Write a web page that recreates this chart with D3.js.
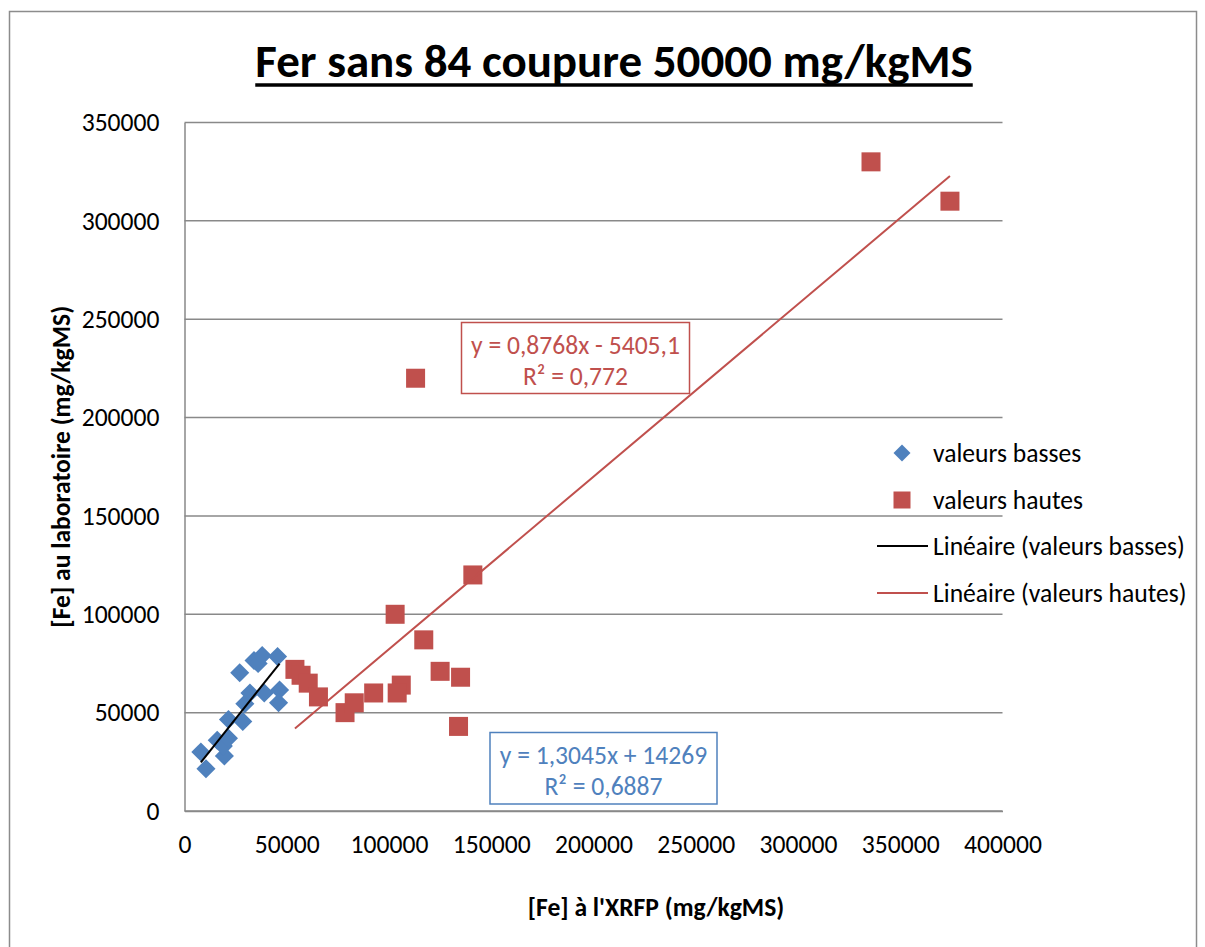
<!DOCTYPE html>
<html>
<head>
<meta charset="utf-8">
<script src="https://cdn.jsdelivr.net/npm/d3@7"></script>
<style>
  body { margin: 0; background: #fff; }
  svg text { font-family: Calibri, Carlito, "Open Sans", sans-serif; }
</style>
</head>
<body>
<svg id="chart" width="1205" height="947"></svg>
<script>
// valeurs basses (blue diamonds)
const lowX = [8000, 10500, 16000, 19500, 19000, 21500, 21500, 28500, 29500, 32000, 27000, 34000, 36000, 38000, 45500, 39000, 46500, 46000];
const lowY = [30000, 21500, 36000, 28000, 33000, 37000, 46500, 45500, 54500, 60000, 70300, 76500, 75000, 79000, 78500, 60000, 61500, 55000];

// valeurs hautes (red squares)
const highX = [54000, 57000, 60500, 65500, 78500, 83000, 92500, 106000, 104000, 103000, 117000, 125000, 135000, 134000, 141000, 113000, 335700, 374300];
const highY = [72000, 69000, 65000, 58000, 50000, 55000, 60000, 64000, 60000, 100000, 87000, 71000, 68000, 43000, 120000, 220000, 330000, 310000];

// trendline coefficients as shown on the chart
const lowFit = { slope: 1.3045, intercept: 14269, label: ["y = 1,3045x + 14269", "R² = 0,6887"] };
const highFit = { slope: 0.8768, intercept: -5405.1, label: ["y = 0,8768x - 5405,1", "R² = 0,772"] };

const xTicks = [0, 50000, 100000, 150000, 200000, 250000, 300000, 350000, 400000];
const yTicks = [0, 50000, 100000, 150000, 200000, 250000, 300000, 350000];

const legendItems = ["valeurs basses", "valeurs hautes", "Linéaire (valeurs basses)", "Linéaire (valeurs hautes)"];

const BLUE = "#4F81BD", RED = "#C0504D", GRID = "#898989";
const FONT = "25.6px";

let svg = d3.select("#chart");

// outer chart frame
svg.append("rect")
    .attr("x", 9.5).attr("y", 11.5)
    .attr("width", 1187).attr("height", 960)
    .attr("fill", "#fff").attr("stroke", "#8c8c8c").attr("stroke-width", 1.5);

let margin = {left: 184.5, right: 1002.5, top: 122.5, bottom: 811};

let x = d3.scaleLinear().domain([0, 400000]).range([margin.left, margin.right]);
let y = d3.scaleLinear().domain([0, 350000]).range([margin.bottom, margin.top]);

// horizontal gridlines
svg.append("g")
    .selectAll("line")
    .data(yTicks)
    .enter().append("line")
    .attr("x1", margin.left).attr("x2", margin.right)
    .attr("y1", d => y(d)).attr("y2", d => y(d))
    .attr("stroke", GRID).attr("stroke-width", 1.5);

// axes
let yAxis = svg.append("g")
    .attr("transform", "translate(" + margin.left + ",0)")
    .call(d3.axisLeft(y).tickValues(yTicks).tickSize(0).tickPadding(25).tickFormat(d3.format("d")));
let xAxis = svg.append("g")
    .attr("transform", "translate(0," + margin.bottom + ")")
    .call(d3.axisBottom(x).tickValues(xTicks).tickSize(0).tickPadding(24).tickFormat(d3.format("d")));

for (let ax of [xAxis, yAxis]) {
    ax.select(".domain").attr("stroke", GRID).attr("stroke-width", 1.5);
    ax.selectAll("text")
        .attr("fill", "#000")
        .style("font-size", FONT)
        .style("font-family", "Calibri, Carlito, 'Open Sans', sans-serif");
}

// markers
let diamond = d3.symbol().type(d3.symbolSquare).size(13.5 * 13.5);

svg.append("g")
    .selectAll("path")
    .data(d3.zip(lowX, lowY))
    .enter().append("path")
    .attr("d", diamond)
    .attr("transform", d => "translate(" + x(d[0]) + "," + y(d[1]) + ") rotate(45)")
    .attr("fill", BLUE);

svg.append("g")
    .selectAll("rect")
    .data(d3.zip(highX, highY))
    .enter().append("rect")
    .attr("x", d => x(d[0]) - 9.5)
    .attr("y", d => y(d[1]) - 9.5)
    .attr("width", 19).attr("height", 19)
    .attr("fill", RED);

// trendlines
function trend(xs, fit) {
    let ext = d3.extent(xs);
    return ext.map(v => [v, fit.slope * v + fit.intercept]);
}
let line = d3.line().x(d => x(d[0])).y(d => y(d[1]));

svg.append("path")
    .attr("d", line(trend(lowX, lowFit)))
    .attr("stroke", "#000").attr("stroke-width", 2).attr("fill", "none");
svg.append("path")
    .attr("d", line(trend(highX, highFit)))
    .attr("stroke", RED).attr("stroke-width", 2).attr("fill", "none");

// trendline labels
function fitLabel(fit, box, color) {
    let g = svg.append("g");
    g.append("rect")
        .attr("x", box[0]).attr("y", box[1])
        .attr("width", box[2]).attr("height", box[3])
        .attr("fill", "#fff").attr("stroke", color).attr("stroke-width", 1.5);
    g.selectAll("text")
        .data(fit.label)
        .enter().append("text")
        .attr("x", box[0] + box[2] / 2)
        .attr("y", (d, i) => box[1] + 22.5 + i * 31)
        .attr("dy", "0.35em")
        .attr("text-anchor", "middle")
        .attr("fill", color)
        .style("font-size", FONT)
        .text(d => d);
}
fitLabel(highFit, [461.5, 322.5, 228, 71], RED);
fitLabel(lowFit, [490, 732.5, 227, 71.5], BLUE);

// title
let title = svg.append("text")
    .attr("x", 614).attr("y", 77)
    .attr("text-anchor", "middle")
    .style("font-size", "47px").style("font-weight", "bold")
    .text("Fer sans 84 coupure 50000 mg/kgMS");
let tb = title.node().getBBox();
svg.append("line")
    .attr("x1", tb.x).attr("x2", tb.x + tb.width)
    .attr("y1", 85).attr("y2", 85)
    .attr("stroke", "#000").attr("stroke-width", 3.5);

// axis titles
svg.append("text")
    .attr("transform", "translate(70," + (margin.top + margin.bottom) / 2 + ") rotate(-90)")
    .attr("text-anchor", "middle")
    .style("font-size", FONT).style("font-weight", "bold")
    .text("[Fe] au laboratoire (mg/kgMS)");
svg.append("text")
    .attr("x", 656).attr("y", 916)
    .attr("text-anchor", "middle")
    .style("font-size", FONT).style("font-weight", "bold")
    .text("[Fe] à l'XRFP (mg/kgMS)");

// legend
let legend = svg.append("g");
let legendY = [453, 500, 546, 593];
legend.append("path")
    .attr("d", d3.symbol().type(d3.symbolSquare).size(12 * 12))
    .attr("transform", "translate(902," + legendY[0] + ") rotate(45)")
    .attr("fill", BLUE);
legend.append("rect")
    .attr("x", 893.5).attr("y", legendY[1] - 8.5)
    .attr("width", 17).attr("height", 17)
    .attr("fill", RED);
legend.append("line")
    .attr("x1", 877).attr("x2", 928).attr("y1", legendY[2]).attr("y2", legendY[2])
    .attr("stroke", "#000").attr("stroke-width", 2);
legend.append("line")
    .attr("x1", 877).attr("x2", 928).attr("y1", legendY[3]).attr("y2", legendY[3])
    .attr("stroke", RED).attr("stroke-width", 2);
legend.selectAll("text")
    .data(legendItems)
    .enter().append("text")
    .attr("x", 933)
    .attr("y", (d, i) => legendY[i])
    .attr("dy", "0.35em")
    .style("font-size", FONT)
    .text(d => d);
</script>
</body>
</html>
